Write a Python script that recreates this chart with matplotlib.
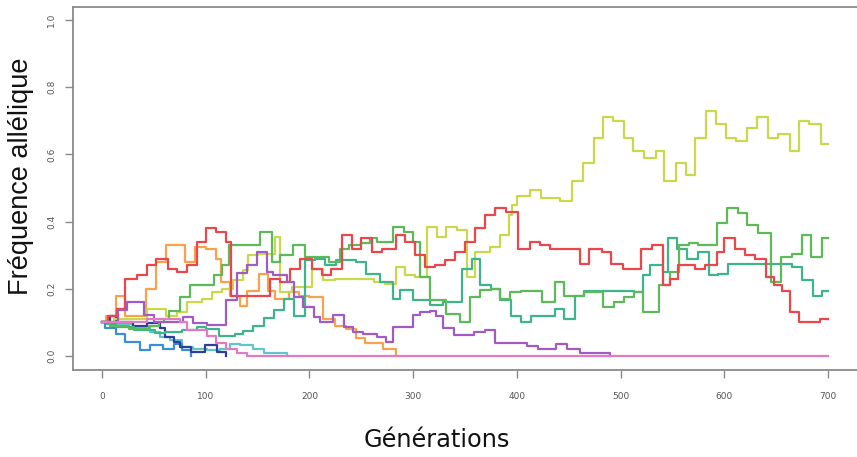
import matplotlib
matplotlib.use("Agg")
import matplotlib.pyplot as plt

# generations where each trajectory changes value, and the value from there on
red_gen = [0, 6, 14, 22, 34, 43, 52, 64, 72, 82, 92, 100, 110, 120, 124, 162, 172, 181, 191, 202, 212, 221, 231, 241, 250, 260, 270,
           283, 292, 302, 311, 321, 331, 340, 350, 360, 369, 379, 390, 401, 413, 422, 432, 461, 470, 482, 491, 502, 520, 530,
           541, 548, 555, 572, 581, 593, 600, 610, 620, 630, 640, 648, 656, 663, 672, 692, 700]
red_freq = [0.10, 0.12, 0.14, 0.23, 0.24, 0.27, 0.29, 0.26, 0.25, 0.27, 0.34, 0.38, 0.37, 0.34, 0.18, 0.23, 0.22, 0.26, 0.29, 0.26, 0.24,
            0.26, 0.36, 0.32, 0.35, 0.31, 0.32, 0.36, 0.34, 0.30, 0.265, 0.27, 0.285, 0.31, 0.34, 0.38, 0.42, 0.44, 0.43, 0.32, 0.34,
            0.33, 0.32, 0.275, 0.32, 0.31, 0.275, 0.26, 0.32, 0.33, 0.21, 0.23, 0.27, 0.26, 0.27, 0.31, 0.35, 0.32, 0.30, 0.29,
            0.235, 0.21, 0.195, 0.13, 0.10, 0.11, 0.11]

orange_gen = [0, 4, 13, 22, 42, 52, 62, 80, 90, 100, 110, 115, 123, 133, 140, 151, 160, 167, 180, 190, 200, 213, 225, 235, 245,
              254, 271, 283]
orange_freq = [0.10, 0.12, 0.18, 0.12, 0.20, 0.28, 0.33, 0.28, 0.325, 0.32, 0.29, 0.22, 0.18, 0.15, 0.195, 0.245, 0.195, 0.17,
               0.19, 0.18, 0.175, 0.11, 0.09, 0.08, 0.055, 0.04, 0.02, 0.0]

yellow_gen = [0, 12, 43, 62, 72, 82, 96, 106, 116, 126, 136, 141, 150, 167, 172, 183, 202, 213, 225, 262, 273, 283, 292, 302,
              313, 323, 332, 342, 352, 360, 374, 384, 392, 395, 400, 413, 423, 442, 453, 464, 474, 483, 493, 503, 512, 523,
              534, 542, 553, 563, 572, 582, 592, 602, 611, 622, 632, 642, 652, 663, 672, 682, 693, 700]
yellow_freq = [0.10, 0.11, 0.14, 0.12, 0.13, 0.16, 0.17, 0.19, 0.20, 0.225, 0.255, 0.30, 0.305, 0.355, 0.19, 0.205, 0.26, 0.225,
               0.23, 0.22, 0.215, 0.265, 0.24, 0.235, 0.385, 0.355, 0.385, 0.375, 0.235, 0.31, 0.325, 0.36, 0.42, 0.45, 0.475,
               0.495, 0.47, 0.46, 0.52, 0.575, 0.65, 0.71, 0.70, 0.65, 0.61, 0.59, 0.61, 0.52, 0.575, 0.54, 0.65, 0.73, 0.69,
               0.65, 0.64, 0.68, 0.71, 0.65, 0.66, 0.61, 0.70, 0.69, 0.63, 0.63]

green_gen = [0, 8, 26, 45, 55, 60, 65, 75, 85, 108, 116, 122, 152, 164, 172, 184, 196, 219, 229, 238, 250, 258, 265, 281, 291,
             300, 307, 316, 332, 345, 355, 364, 375, 384, 393, 404, 424, 437, 445, 465, 483, 494, 503, 513, 522, 533, 537,
             548, 556, 566, 575, 593, 603, 613, 622, 633, 645, 655, 665, 675, 684, 694, 700]
green_freq = [0.10, 0.09, 0.08, 0.09, 0.10, 0.11, 0.135, 0.175, 0.21, 0.24, 0.27, 0.33, 0.37, 0.28, 0.30, 0.33, 0.295, 0.28, 0.32,
              0.33, 0.335, 0.35, 0.34, 0.385, 0.37, 0.34, 0.235, 0.167, 0.126, 0.10, 0.177, 0.196, 0.20, 0.17, 0.19, 0.195,
              0.16, 0.22, 0.18, 0.19, 0.145, 0.16, 0.175, 0.19, 0.13, 0.13, 0.21, 0.25, 0.33, 0.335, 0.33, 0.395, 0.44, 0.425,
              0.39, 0.365, 0.22, 0.295, 0.305, 0.36, 0.295, 0.35, 0.35]

teal_gen = [0, 5, 13, 31, 51, 61, 77, 92, 100, 113, 128, 136, 146, 156, 166, 175, 185, 196, 205, 215, 226, 245, 255, 268, 281,
            287, 300, 316, 329, 347, 357, 364, 375, 384, 394, 404, 414, 437, 445, 456, 465, 513, 522, 528, 541, 546, 554, 564,
            575, 585, 594, 604, 665, 675, 686, 694, 700]
teal_freq = [0.10, 0.095, 0.085, 0.077, 0.07, 0.073, 0.077, 0.087, 0.08, 0.06, 0.067, 0.075, 0.09, 0.113, 0.137, 0.17, 0.12, 0.285,
             0.29, 0.27, 0.285, 0.28, 0.245, 0.22, 0.17, 0.196, 0.167, 0.152, 0.16, 0.26, 0.29, 0.21, 0.20, 0.167, 0.12, 0.10,
             0.12, 0.14, 0.11, 0.18, 0.195, 0.19, 0.24, 0.27, 0.25, 0.35, 0.32, 0.29, 0.31, 0.24, 0.245, 0.275, 0.265, 0.225,
             0.18, 0.195, 0.195]

cyan_gen = [0, 10, 30, 46, 56, 66, 77, 88, 101, 114, 123, 133, 146, 156, 178]
cyan_freq = [0.10, 0.095, 0.087, 0.072, 0.057, 0.047, 0.027, 0.022, 0.017, 0.022, 0.037, 0.032, 0.022, 0.008, 0.0]

blue_gen = [0, 3, 13, 22, 37, 46, 59, 69, 77, 86]
blue_freq = [0.10, 0.082, 0.067, 0.042, 0.017, 0.032, 0.022, 0.037, 0.017, 0.0]

navy_gen = [0, 8, 13, 30, 43, 56, 61, 69, 75, 86, 99, 111, 120]
navy_freq = [0.10, 0.12, 0.10, 0.09, 0.097, 0.082, 0.057, 0.043, 0.028, 0.013, 0.033, 0.013, 0.0]

purple_gen = [0, 15, 24, 40, 50, 78, 88, 101, 120, 130, 140, 149, 159, 165, 178, 185, 194, 204, 210, 223, 233, 242, 252, 265,
              274, 281, 300, 307, 316, 322, 329, 339, 359, 369, 379, 410, 420, 438, 448, 461, 490]
purple_freq = [0.10, 0.137, 0.161, 0.122, 0.102, 0.117, 0.097, 0.092, 0.167, 0.246, 0.271, 0.31, 0.251, 0.241, 0.221, 0.177,
               0.147, 0.117, 0.102, 0.122, 0.087, 0.072, 0.067, 0.057, 0.043, 0.087, 0.122, 0.132, 0.135, 0.12, 0.083, 0.063,
               0.073, 0.077, 0.04, 0.03, 0.02, 0.035, 0.02, 0.01, 0.0]

pink_gen = [0, 20, 43, 67, 75, 82, 101, 110, 120, 130, 140, 700]
pink_freq = [0.10, 0.10, 0.11, 0.11, 0.10, 0.077, 0.06, 0.04, 0.02, 0.01, 0.0, 0.0]

series = [
    (orange_gen, orange_freq, "#f7a34e"),
    (cyan_gen, cyan_freq, "#62c4cb"),
    (blue_gen, blue_freq, "#3a8fd6"),
    (navy_gen, navy_freq, "#2c3f9c"),
    (yellow_gen, yellow_freq, "#cad84c"),
    (teal_gen, teal_freq, "#3db489"),
    (green_gen, green_freq, "#5db95a"),
    (red_gen, red_freq, "#e9474b"),
    (purple_gen, purple_freq, "#a05cc4"),
    (pink_gen, pink_freq, "#e27bc4"),
]

fig = plt.figure(figsize=(8.57, 4.57), dpi=100)
ax = fig.add_axes([73 / 857, 87.5 / 457, 784 / 857, 363 / 457])

for gen, freq, col in series:
    ax.step(gen, freq, where="post", color=col, lw=1.6)

ax.set_xlim(-28, 728)
ax.set_ylim(-0.04, 1.04)
ax.set_xticks([0, 100, 200, 300, 400, 500, 600, 700])
ax.set_yticks([0.0, 0.2, 0.4, 0.6, 0.8, 1.0])
ax.set_yticklabels(["0.0", "0.2", "0.4", "0.6", "0.8", "1.0"], rotation=90, va="center")

for side in ["left", "bottom", "top"]:
    ax.spines[side].set_color("#8a8a8a")
    ax.spines[side].set_linewidth(1.3)
ax.spines["right"].set_visible(False)
ax.tick_params(axis="both", length=6, width=1.0, color="#8a8a8a", labelsize=6.5, labelcolor="#555555")
ax.tick_params(axis="x", pad=10)
ax.tick_params(axis="y", pad=6)

fig.text(0.024, 0.615, "Fréquence allélique", rotation=90, ha="center", va="center",
         fontsize=19.5, family="Liberation Sans", color="#111111")
fig.text(0.51, 0.037, "Générations", ha="center", va="center", fontsize=17.3, color="#111111")

fig.savefig("out.png", dpi=100)
